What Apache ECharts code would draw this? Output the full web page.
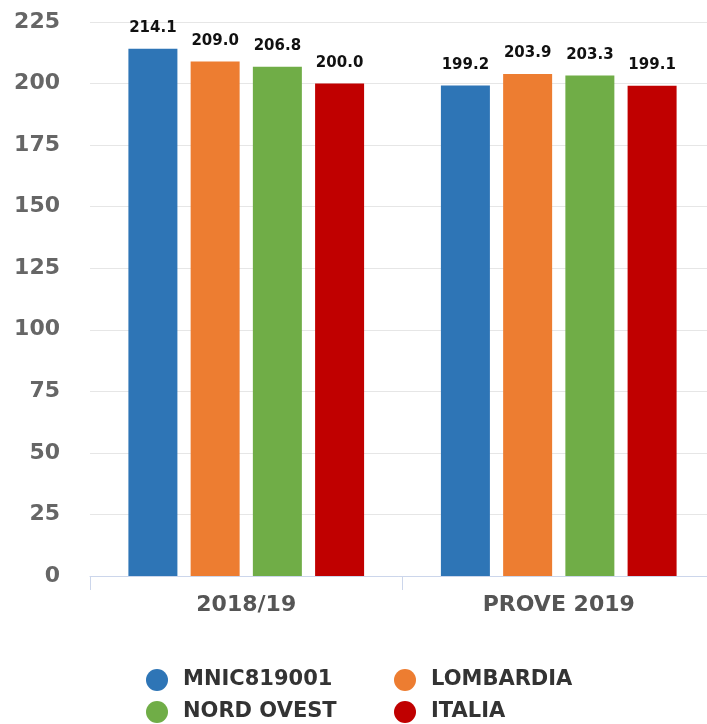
<!DOCTYPE html>
<html>
<head>
<meta charset="utf-8">
<script src="https://cdn.jsdelivr.net/npm/echarts@6/dist/echarts.min.js"></script>
<style>
  html, body { margin: 0; padding: 0; background: #fff; }
  #chart { width: 707px; height: 724px; }
</style>
</head>
<body>
<div id="chart"></div>
<script>
  // categorie e serie
  var categories = ['2018/19', 'PROVE 2019']
  var seriesNames = ['MNIC819001', 'LOMBARDIA', 'NORD OVEST', 'ITALIA']
  var mnic = [214.1, 199.2]
  var lombardia = [209.0, 203.9]
  var nordOvest = [206.8, 203.3]
  var italia = [200.0, 199.1]
  var colors = ['#2e75b6', '#ed7d31', '#70ad47', '#c00000']

  var values = [mnic, lombardia, nordOvest, italia]
  var font = 'DejaVu Sans'

  var chart = echarts.init(document.getElementById('chart'))

  // una legenda per voce, disposte su due colonne
  var legendPos = [[146, 669], [394, 669], [146, 701], [394, 701]]
  function legendItem(name, i) {
    return {
      data: [name],
      left: legendPos[i][0],
      top: legendPos[i][1],
      padding: 0,
      icon: 'circle',
      itemWidth: 22,
      itemHeight: 22,
      textStyle: {
        fontFamily: font,
        fontSize: 21,
        fontWeight: 'bold',
        color: '#333',
        padding: [0, 0, 0, 10]
      }
    }
  }

  chart.setOption({
    animation: false,
    color: colors,
    grid: {
      left: 90,
      top: 22,
      width: 625,
      height: 554,
      outerBoundsMode: 'none'
    },
    legend: seriesNames.map(legendItem),
    xAxis: {
      type: 'category',
      data: categories,
      axisLine: { lineStyle: { color: '#ccd6eb', width: 1 } },
      axisTick: { show: true, length: 14, lineStyle: { color: '#ccd6eb' } },
      axisLabel: {
        margin: 18,
        fontFamily: font,
        fontSize: 22,
        fontWeight: 'bold',
        color: '#555'
      }
    },
    yAxis: {
      type: 'value',
      min: 0,
      max: 225,
      interval: 25,
      axisLine: { show: false },
      axisTick: { show: false },
      splitLine: { lineStyle: { color: '#e6e6e6' } },
      axisLabel: {
        margin: 30,
        fontFamily: font,
        fontSize: 22,
        fontWeight: 'bold',
        color: '#666'
      }
    },
    series: seriesNames.map(function (name, i) {
      return {
        name: name,
        type: 'bar',
        data: values[i],
        barWidth: 49,
        barGap: '27%',
        barCategoryGap: '24%',
        label: {
          show: true,
          position: 'top',
          distance: 13,
          fontFamily: font,
          fontSize: 15,
          fontWeight: 'bold',
          color: '#111',
          formatter: function (p) { return p.value.toFixed(1) }
        }
      }
    })
  })
</script>
</body>
</html>
